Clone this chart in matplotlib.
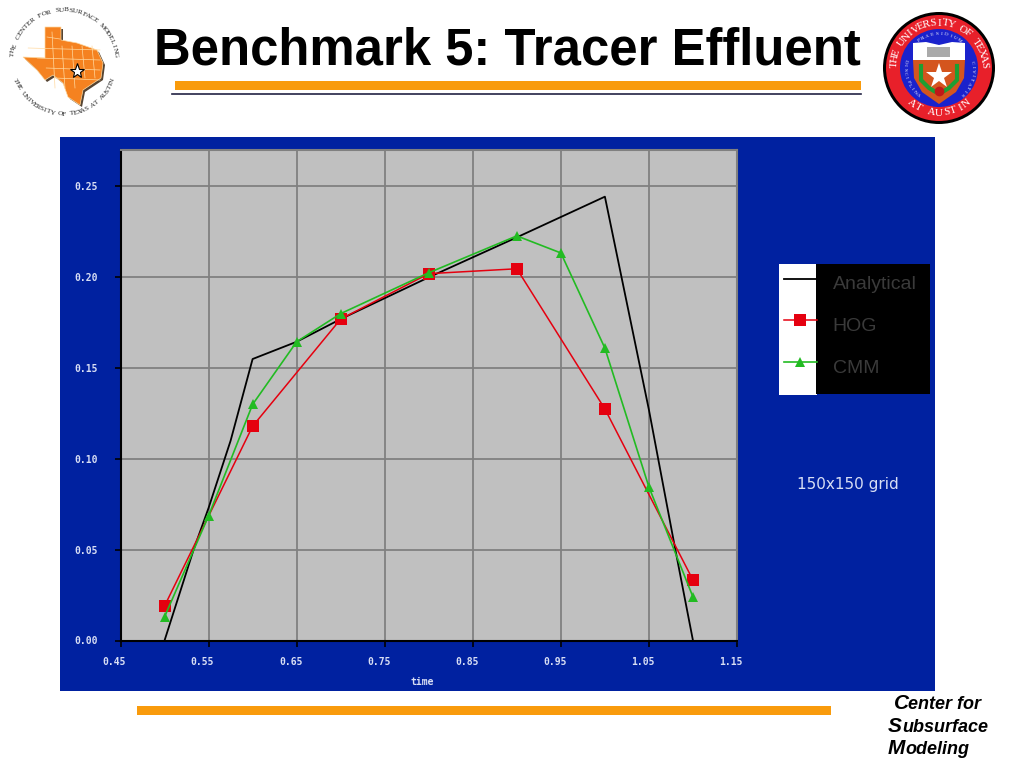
import math
import matplotlib
matplotlib.use("Agg")
import matplotlib.pyplot as plt
from matplotlib.patches import Rectangle, Circle, Polygon
from matplotlib.transforms import ScaledTranslation

plt.rcParams['font.family'] = ['Liberation Sans', 'DejaVu Sans']

# Data
x_ticks = [0.45, 0.55, 0.65, 0.75, 0.85, 0.95, 1.05, 1.15]
y_ticks = [0.00, 0.05, 0.10, 0.15, 0.20, 0.25]
x_tick_labels = ['0.45', '0.55', '0.65', '0.75', '0.85', '0.95', '1.05', '1.15']
y_tick_labels = ['0.00', '0.05', '0.10', '0.15', '0.20', '0.25']

analytical_x = [0.50, 0.533, 0.55, 0.575, 0.60, 0.65, 0.70, 0.80, 0.90, 1.00, 1.05, 1.08, 1.10]
analytical_y = [0.000, 0.050, 0.073, 0.110, 0.155, 0.1645, 0.177, 0.200, 0.222, 0.2444, 0.127, 0.050, 0.000]

hog_x = [0.50, 0.60, 0.70, 0.80, 0.90, 1.00, 1.10]
hog_y = [0.019, 0.118, 0.177, 0.202, 0.2047, 0.1275, 0.0333]

cmm_x = [0.50, 0.55, 0.60, 0.65, 0.70, 0.80, 0.90, 0.95, 1.00, 1.05, 1.10]
cmm_y = [0.013, 0.0686, 0.130, 0.1645, 0.180, 0.2025, 0.2228, 0.2134, 0.161, 0.0845, 0.024]

W, H = 1024, 768
NAVY = '#0021A0'
ORANGE = '#F99B0C'
RED = '#E5000F'
GREEN = '#22BB22'

fig = plt.figure(figsize=(10.24, 7.68), dpi=100, facecolor='white')

# Full-page layer in pixel coordinates for the slide furniture
bg = fig.add_axes([0, 0, 1, 1], zorder=0)
bg.set_xlim(0, W)
bg.set_ylim(H, 0)
bg.axis('off')


def curved(text, cx, cy, r, a0, a1, size, color, top=True, **kw):
    n = len(text)
    for i, ch in enumerate(text):
        a = a0 + (a1 - a0) * i / (n - 1)
        x = cx + r * math.cos(math.radians(a))
        y = cy - r * math.sin(math.radians(a))
        rot = a - 90 if top else a + 90
        bg.text(x, y, ch, rotation=rot, rotation_mode='anchor', ha='center', va='center',
                fontsize=size, color=color, family='Liberation Serif', **kw)


# Title and rules
bg.text(507, 51, 'Benchmark 5: Tracer Effluent', ha='center', va='center',
        fontsize=36.6, fontweight='bold', color='black')
bg.add_patch(Rectangle((175, 81), 686, 9, color=ORANGE, lw=0))
bg.plot([172, 861], [93.5, 93.5], color='#222244', lw=1.2)
bg.add_patch(Rectangle((137, 706), 694, 9, color=ORANGE, lw=0))

# Blue panel
bg.add_patch(Rectangle((60, 137), 875, 554, color=NAVY, lw=0))

# Left logo: Texas outline with circular lettering
texas = [(45, 27), (61, 27), (61, 40), (77, 43), (97, 50), (103, 63), (101, 78), (83, 90), (80, 105),
         (68, 97), (63, 83), (53, 75), (45, 80), (37, 70), (23, 57), (45, 58)]
bg.add_patch(Polygon([(x + 2, y + 2) for x, y in texas], closed=True, color='#554433', lw=0))
bg.add_patch(Polygon(texas, closed=True, facecolor='#F58220', edgecolor='#FFD9A0', lw=0.5))
for gx in (52, 62, 72, 82, 92):
    bg.plot([gx, gx + 3], [32 if gx < 60 else 46, 88 if gx < 80 else 78], color='#FFD9A0', lw=0.5)
for gy in (37, 48, 58, 68, 78):
    bg.plot([47 if gy < 45 else 30 + (gy - 50) * 0.9, 60 if gy < 45 else 100], [gy, gy + 2], color='#FFD9A0', lw=0.5)
bg.plot([77], [71], marker='*', ms=11, mfc='white', mec='black', mew=0.8)
curved('THE CENTER FOR SUBSURFACE MODELING', 64, 62, 52, 172, 8, 5.2, '#222222', top=True)
curved('THE UNIVERSITY OF TEXAS AT AUSTIN', 64, 62, 52, 201, 339, 5.2, '#222222', top=False)

# Right logo: University seal
sx, sy = 939, 68
bg.add_patch(Circle((sx, sy), 56, color='black', lw=0))
bg.add_patch(Circle((sx, sy), 53, color='#E8202A', lw=0))
bg.add_patch(Circle((sx, sy), 39, color='#1A22CC', lw=0))
bg.add_patch(Polygon([(913, 43), (926, 42), (939, 45), (952, 42), (965, 43), (965, 60), (913, 60)],
                     closed=True, color='white', lw=0))
bg.add_patch(Polygon([(913, 60), (965, 60), (964, 78), (956, 92), (939, 104), (922, 92), (914, 78)],
                     closed=True, color='#D4551E', lw=0))
bg.add_patch(Rectangle((927, 47), 23, 10, color='#AAAAAA', lw=0))
bg.plot([sx], [76], marker='*', ms=19, color='white', mew=0)
bg.plot([921, 921, 929, 934], [66, 80, 88, 91], color='#1E9E32', lw=3)
bg.plot([957, 957, 949, 944], [66, 80, 88, 91], color='#1E9E32', lw=3)
bg.plot([sx], [91], marker='o', ms=7, color='#C01818', mew=0)
curved('THE UNIVERSITY OF TEXAS', sx, sy, 45, 176, 4, 8, 'white', top=True)
curved('AT AUSTIN', sx, sy, 45, 232, 308, 8, 'white', top=False)
curved('PRAESIDIUM', sx, sy, 34, 126, 54, 3.8, 'white', top=True)
curved('DISCIPLINA', sx, sy, 34, 168, 233, 3.8, 'white', top=False)
curved('CIVITATIS', sx, sy, 34, 10, -48, 3.8, 'white', top=True)

# Footer
for x, y, big, adv, rest in [(894, 709, 'C', 14.5, 'enter for'),
                             (888, 732, 'S', 14.5, 'ubsurface'),
                             (888, 754, 'M', 17, 'odeling')]:
    bg.text(x, y, big, fontsize=15, fontweight='bold', fontstyle='italic', color='black', va='baseline')
    bg.text(x + adv, y, rest, fontsize=13, fontweight='bold', fontstyle='italic', color='black', va='baseline')

# Legend boxes
bg.add_patch(Rectangle((779, 264), 38, 131, color='white', lw=0))
bg.add_patch(Rectangle((816, 264), 114, 130, color='black', lw=0))

# Annotation on the panel
bg.text(848, 484, '150x150 grid', ha='center', va='center', fontsize=11,
        color='#D8DEF4', family='DejaVu Sans')

# Chart
L, R, T, B = 120.5, 737, 150, 640.5
ax = fig.add_axes([L / W, 1 - B / H, (R - L) / W, (B - T) / H], zorder=2, facecolor='#C0C0C0')
ax.set_xlim(0.45, 1.15)
ax.set_ylim(0, (B - T) / 1816)
ax.set_xticks(x_ticks, x_tick_labels)
ax.set_yticks(y_ticks, y_tick_labels)
ax.grid(True, color='#808080', lw=1.3)
ax.set_axisbelow(True)
ax.tick_params(length=4, width=1.2, color='black', labelcolor='#D8DEF4', labelsize=7, pad=12)
ax.tick_params(axis='x', pad=8)
shift = ScaledTranslation(-6 / 100, 0, fig.dpi_scale_trans)
for lab in ax.get_xticklabels():
    lab.set_transform(lab.get_transform() + shift)
for lab in ax.get_xticklabels() + ax.get_yticklabels():
    lab.set_family('DejaVu Sans Mono')
    lab.set_fontweight('bold')
for s in ('left', 'bottom'):
    ax.spines[s].set_color('black')
    ax.spines[s].set_linewidth(1.5)
for s in ('top', 'right'):
    ax.spines[s].set_color('#808080')
    ax.spines[s].set_linewidth(1.5)

l1, = ax.plot(analytical_x, analytical_y, color='black', lw=1.3, label='Analytical', zorder=3)
l2, = ax.plot(hog_x, hog_y, color=RED, lw=1.1, marker='s', ms=8.5, mew=0, label='HOG', zorder=4)
l3, = ax.plot(cmm_x, cmm_y, color=GREEN, lw=1.2, marker='^', ms=7, mew=0, label='CMM', zorder=5)

ax.set_xlabel('time', fontsize=7, color='#D8DEF4', family='DejaVu Sans Mono', fontweight='bold',
              labelpad=7, x=0.489)

leg = fig.legend(handles=[l1, l2, l3], frameon=False, loc='upper left',
                 bbox_to_anchor=(775 / W, 1 - 263 / H), bbox_transform=fig.transFigure,
                 fontsize=14, labelcolor='#3A3A3A', handlelength=1.7, handletextpad=0.82,
                 labelspacing=1.25, borderpad=0.45, borderaxespad=0)
leg.set_zorder(5)
for t in leg.get_texts():
    t.set_y(-4)

fig.savefig('out.png', dpi=100)
